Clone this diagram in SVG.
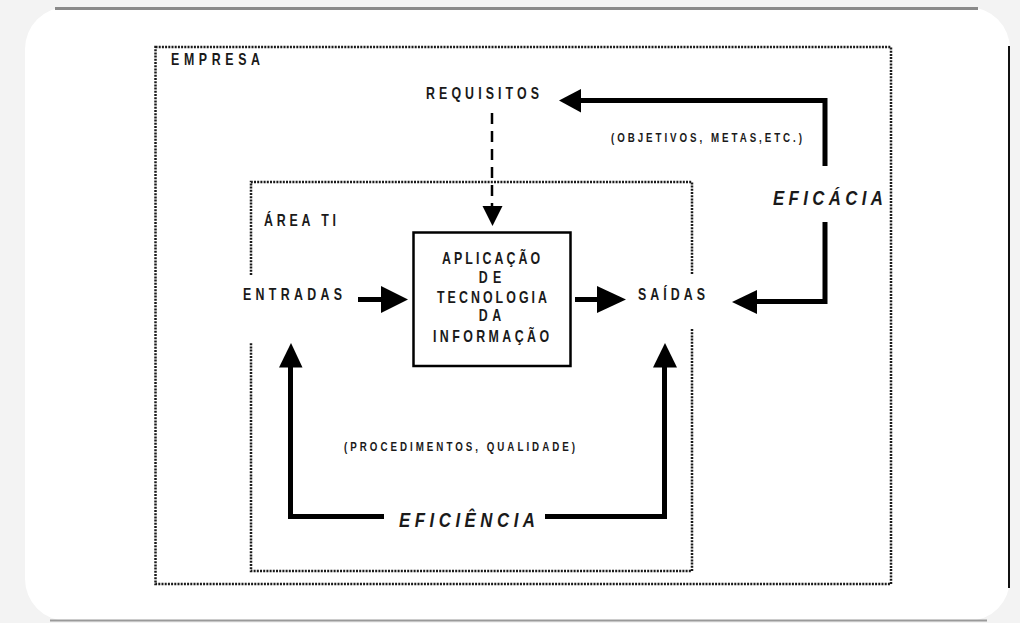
<svg xmlns="http://www.w3.org/2000/svg" width="1020" height="623" viewBox="0 0 1020 623">
<style>
.t{font-family:"Liberation Sans",Arial,sans-serif;font-weight:bold;fill:#1a1a1a}
.big{font-size:21px;font-style:italic}
.mid{font-size:16.5px}
.sm{font-size:13px}
.dot{fill:none;stroke:#1a1a1a;stroke-width:2.5;stroke-dasharray:2 1.2}
.ln{fill:none;stroke:#000;stroke-width:5;stroke-linejoin:miter}
.hd{fill:#000}
</style>
<rect x="0" y="0" width="1020" height="623" fill="#f3f3f3"/>
<g id="card">
<rect x="25" y="7" width="985" height="614" rx="42" fill="#fff"/>
<line x1="55" y1="8.5" x2="978" y2="8.5" stroke="#8a8a8a" stroke-width="3"/>
<line x1="1009" y1="46" x2="1009" y2="588" stroke="#111" stroke-width="2"/>
<line x1="50" y1="620.5" x2="987" y2="620.5" stroke="#9a9a9a" stroke-width="2"/>
</g>
<g id="empresa">
<rect class="dot" x="155.5" y="47" width="735.5" height="537"/>
<text class="t mid" transform="translate(171,65) scale(0.75,1)" textLength="118.7" lengthAdjust="spacing">EMPRESA</text>
</g>
<g id="area-ti">
<path class="dot" d="M251,275 V182 H692 V275 M692,329 V571 H251 V342"/>
<text class="t mid" transform="translate(264,226) scale(0.75,1)" textLength="96" lengthAdjust="spacing">ÁREA TI</text>
</g>
<g id="requisitos">
<text class="t mid" transform="translate(426,99) scale(0.75,1)" textLength="150.7" lengthAdjust="spacing">REQUISITOS</text>
</g>
<g id="entradas">
<text class="t mid" transform="translate(243,300) scale(0.75,1)" textLength="132" lengthAdjust="spacing">ENTRADAS</text>
</g>
<g id="saidas">
<text class="t mid" transform="translate(638,300) scale(0.75,1)" textLength="89.3" lengthAdjust="spacing">SAÍDAS</text>
</g>
<g id="aplicacao">
<rect x="413.5" y="232.5" width="157" height="133.5" fill="#fff" stroke="#000" stroke-width="2.5"/>
<text class="t mid" text-anchor="middle" transform="translate(491,264) scale(0.75,1)" textLength="130.7" lengthAdjust="spacing">APLICAÇÃO</text>
<text class="t mid" text-anchor="middle" transform="translate(490,283) scale(0.75,1)" textLength="30" lengthAdjust="spacing">DE</text>
<text class="t mid" text-anchor="middle" transform="translate(492,303) scale(0.75,1)" textLength="146.7" lengthAdjust="spacing">TECNOLOGIA</text>
<text class="t mid" text-anchor="middle" transform="translate(490,321) scale(0.75,1)" textLength="30" lengthAdjust="spacing">DA</text>
<text class="t mid" text-anchor="middle" transform="translate(491,342) scale(0.75,1)" textLength="154.7" lengthAdjust="spacing">INFORMAÇÃO</text>
</g>
<g id="eficacia">
<text class="t big" transform="translate(773,205) scale(0.8,1)" textLength="137.5" lengthAdjust="spacing">EFICÁCIA</text>
<text class="t sm" transform="translate(611,141.5) scale(0.75,1)" textLength="254.7" lengthAdjust="spacing">(OBJETIVOS, METAS,ETC.)</text>
</g>
<g id="eficiencia">
<text class="t big" transform="translate(399,527) scale(0.8,1)" textLength="170" lengthAdjust="spacing">EFICIÊNCIA</text>
<text class="t sm" transform="translate(344,450.5) scale(0.75,1)" textLength="308" lengthAdjust="spacing">(PROCEDIMENTOS, QUALIDADE)</text>
</g>
<g id="connectors">
<path class="ln" d="M825,166 V100.5 H578"/>
<polygon class="hd" points="581,89 559,100.5 581,112.5"/>
<path class="ln" d="M825,222 V301.5 H754"/>
<polygon class="hd" points="757,290 732,302 757,314"/>
<path d="M492,113 V206" fill="none" stroke="#000" stroke-width="2.5" stroke-dasharray="11 7"/>
<polygon class="hd" points="482.5,206 502.5,206 492.5,226"/>
<path class="ln" d="M358,299.5 H384" stroke-width="6"/>
<polygon class="hd" points="381,286 408,299.5 381,313"/>
<path class="ln" d="M575,299.5 H600" stroke-width="6"/>
<polygon class="hd" points="597,286 626,299.5 597,313"/>
<path class="ln" d="M384,516.5 H290.5 V365"/>
<polygon class="hd" points="279,367.5 302.5,367.5 291,343"/>
<path class="ln" d="M545,516.5 H664.5 V365"/>
<polygon class="hd" points="653,367.5 677,367.5 665,343"/>
</g>
</svg>
